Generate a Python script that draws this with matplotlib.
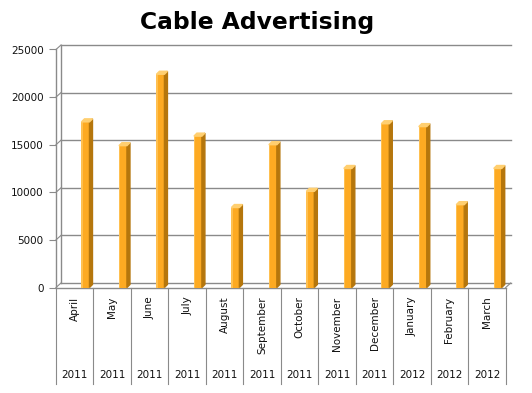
import matplotlib.pyplot as plt
from matplotlib.patches import Polygon

months = ['April', 'May', 'June', 'July', 'August', 'September', 'October',
          'November', 'December', 'January', 'February', 'March']
years = ['2011'] * 9 + ['2012'] * 3
spend = [17400, 14900, 22400, 15900, 8400, 15000, 10100,
         12500, 17200, 16900, 8700, 12500]
yticks = [0, 5000, 10000, 15000, 20000, 25000]

W, H = 532, 393
fig = plt.figure(figsize=(W / 100, H / 100), dpi=100)

# front plane of the plot area, in pixels
x0, x1, yb, yt = 56, 505.7, 287.5, 49.5
ax = fig.add_axes([x0 / W, 1 - yb / H, (x1 - x0) / W, (yb - yt) / H])
ax.set_xlim(0, 12)
ax.set_ylim(0, 25000)
for s in ax.spines.values():
    s.set_visible(False)

# pixel -> data units
dxp = 12 / (x1 - x0)
dyp = 25000 / (yb - yt)
bx, by = 5 * dxp, 4.5 * dyp   # depth of back wall
gc = '#8a8a8a'

# back wall gridlines + left wall
for v in yticks:
    ax.plot([bx, 12 + bx], [v + by, v + by], color=gc, lw=1, clip_on=False)
    ax.plot([0, bx], [v, v + by], color=gc, lw=0.8, clip_on=False)
ax.plot([bx, bx], [by, 25000 + by], color=gc, lw=1, clip_on=False)
ax.plot([0, 0], [0, 25000], color=gc, lw=1, clip_on=False)
ax.plot([0, 12], [0, 0], color=gc, lw=1, clip_on=False)
ax.plot([12, 12 + bx], [0, by], color=gc, lw=0.8, clip_on=False)

# 3D-looking columns
fw = 8 * dxp
sx, sy = 3 * dxp, 3 * dyp
for i, v in enumerate(spend):
    xl = i + 0.68
    xr = xl + fw
    ax.bar(xl, v, width=fw, align='edge', color='#FDAA22', zorder=3)
    ax.bar(xl, v, width=1.2 * dxp, align='edge', color='#FFC050', zorder=3)
    ax.add_patch(Polygon([(xr, 0), (xr + sx, sy), (xr + sx, v + sy), (xr, v)],
                         closed=True, color='#B5760C', zorder=3))
    ax.add_patch(Polygon([(xl, v), (xr, v), (xr + sx, v + sy), (xl + sx, v + sy)],
                         closed=True, color='#FFCF70', zorder=3))

# y axis
ax.set_yticks(yticks)
ax.set_yticklabels([str(t) for t in yticks], fontsize=7.5, color='#111111')
ax.tick_params(axis='y', length=5, color=gc, pad=4)
ax.set_xticks([])

# category table below the axis
for i in range(13):
    ax.plot([i, i], [0, -96 * dyp], color=gc, lw=0.8, clip_on=False)
for i, (m, y) in enumerate(zip(months, years)):
    ax.text(i + 0.5, -9 * dyp, m, rotation=90, ha='center', va='top',
            fontsize=7.5, color='#111111')
    ax.text(i + 0.5, -88 * dyp, y, ha='center', va='center',
            fontsize=7.5, color='#111111')

fig.text(257 / W, 1 - 22 / H, 'Cable Advertising', ha='center', va='center',
         fontsize=16.8, fontweight='bold')

fig.savefig('out.png', dpi=100)
